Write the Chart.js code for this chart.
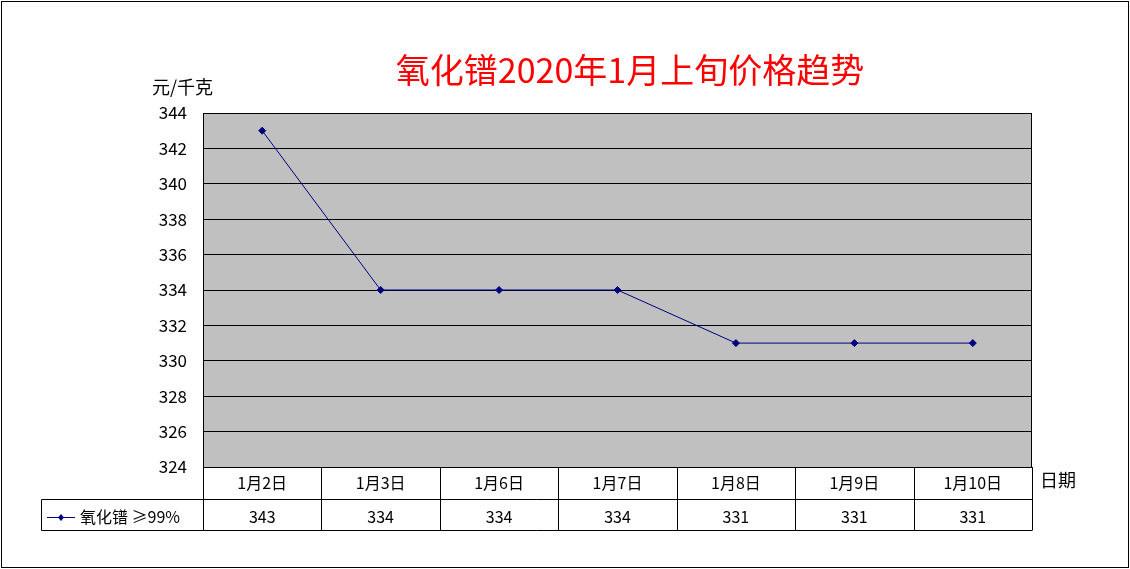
<!DOCTYPE html>
<html><head><meta charset="utf-8">
<script src="https://cdn.jsdelivr.net/npm/chart.js@4/dist/chart.umd.min.js"></script>
<style>body{margin:0;background:#fff}</style>
</head><body><canvas id="c" width="1130" height="569"></canvas>
<script>
const dates = ["1月2日","1月3日","1月6日","1月7日","1月8日","1月9日","1月10日"];
const prices = [343,334,334,334,331,331,331];
const seriesName = "氧化镨 ≥99%";
const FONT = "'Noto Sans CJK SC', sans-serif";

const frame = {
  id: 'frame',
  beforeDraw(chart) {
    const ctx = chart.ctx, a = chart.chartArea;
    ctx.save();
    ctx.fillStyle = '#fff'; ctx.fillRect(0,0,chart.width,chart.height);
    ctx.fillStyle = '#C0C0C0'; ctx.fillRect(a.left,a.top,a.right-a.left,a.bottom-a.top);
    ctx.restore();
  },
  afterDraw(chart) {
    const ctx = chart.ctx, a = chart.chartArea, x = chart.scales.x;
    ctx.save();
    ctx.strokeStyle = '#000'; ctx.lineWidth = 1;
    ctx.strokeRect(1.5,1.5,chart.width-3,chart.height-3);
    ctx.strokeRect(a.left+0.5,a.top+0.5,a.right-a.left-1,a.bottom-a.top);
    const r1 = a.bottom, r2 = 499.5, r3 = 530.5, tl = 41.5;
    const cw = (a.right - a.left) / dates.length;
    ctx.beginPath();
    ctx.moveTo(tl, r2); ctx.lineTo(a.right, r2);
    ctx.moveTo(tl, r3); ctx.lineTo(a.right, r3);
    ctx.moveTo(tl, r2); ctx.lineTo(tl, r3);
    for (let i = 0; i <= dates.length; i++) {
      const px = Math.round(a.left + i*cw) + 0.5;
      ctx.moveTo(px, r1); ctx.lineTo(px, r3);
    }
    ctx.stroke();
    ctx.fillStyle = '#000'; ctx.font = '16px ' + FONT;
    ctx.textAlign = 'center'; ctx.textBaseline = 'middle';
    dates.forEach((d,i) => {
      const cx = x.getPixelForValue(i);
      ctx.fillText(d, cx, 483);
      ctx.fillText(String(prices[i]), cx, 517);
    });
    // legend key
    ctx.strokeStyle = '#000080'; ctx.fillStyle = '#000080';
    ctx.beginPath(); ctx.moveTo(47,517.5); ctx.lineTo(75,517.5); ctx.stroke();
    ctx.beginPath(); ctx.moveTo(61,514); ctx.lineTo(64,517.5); ctx.lineTo(61,521); ctx.lineTo(58,517.5); ctx.fill();
    ctx.fillStyle = '#000'; ctx.textAlign = 'left';
    ctx.fillText(seriesName, 80, 517);
    ctx.font = '18px ' + FONT;
    ctx.fillText('日期', 1040, 480);
    ctx.fillText('元/千克', 152, 87);
    ctx.fillStyle = '#FF0000'; ctx.textAlign = 'center';
    ctx.font = '34px ' + FONT;
    ctx.fillText('氧化镨2020年1月上旬价格趋势', 630, 70);
    ctx.restore();
  }
};

new Chart(document.getElementById('c'), {
  type: 'line',
  data: {
    labels: dates,
    datasets: [{
      data: prices,
      borderColor: '#000080', backgroundColor: '#000080',
      borderWidth: 1, pointStyle: 'rectRot', pointRadius: 3.5,
      tension: 0
    }]
  },
  options: {
    responsive: false, animation: false, devicePixelRatio: 1,
    layout: { padding: { left: 0, top: 113, right: 98, bottom: 102 } },
    plugins: { legend: { display: false }, tooltip: { enabled: false } },
    scales: {
      x: { display: false, offset: true },
      y: {
        min: 324, max: 344,
        afterFit(s) { s.width = 203; },
        ticks: { stepSize: 2, color: '#000', font: { size: 17, family: FONT }, padding: 16 },
        grid: { color: '#000', drawTicks: false },
        border: { color: '#000' }
      }
    }
  },
  plugins: [frame]
});
</script>
</body></html>
